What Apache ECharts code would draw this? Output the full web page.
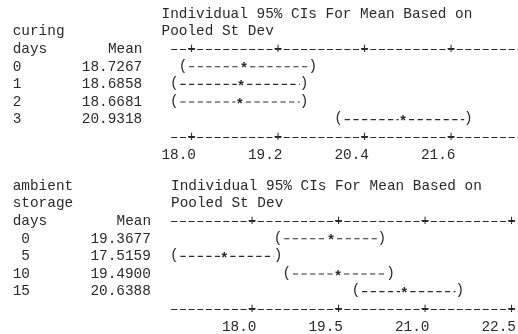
<!DOCTYPE html>
<html><head><meta charset="utf-8">
<script src="https://cdn.jsdelivr.net/npm/echarts@6/dist/echarts.min.js"></script>
<style>html,body{margin:0;padding:0;background:#fff}#c{width:518px;height:334px}</style>
</head><body><div id="c"></div>
<script>
// ---- data ----
const curingDays = ['0', '1', '2', '3'];
const curingMean = [18.7267, 18.6858, 18.6681, 20.9318];
const curingLower = [17.88, 17.76, 17.76, 20.04];
const curingUpper = [19.68, 19.56, 19.56, 21.84];
const curingTicks = [18.0, 19.2, 20.4, 21.6];

const storageDays = ['0', '5', '10', '15'];
const storageMean = [19.3677, 17.5159, 19.4900, 20.6388];
const storageLower = [18.45, 16.65, 18.60, 19.80];
const storageUpper = [20.25, 18.45, 20.40, 21.60];
const storageTicks = [18.0, 19.5, 21.0, 22.5];

// ---- style / layout ----
const FONT_FAMILY = 'Liberation Mono';
const FS = 14.4;
const CW = 8.65;
const LH = 17.6;
const COLOR = '#2a2a2a';
const FONT = FS + 'px "' + FONT_FAMILY + '"';
const BOLD_FONT = 'bold ' + FONT;
const TOP0 = 14, BOT0 = 186;
const LEFTX = 12.7;
const DASH = [5.2, 3.45];
const DASH_OFF = CW - (CW - DASH[0]) / 2;

const topRows = curingDays.map((d, i) => d.padEnd(8) + curingMean[i].toFixed(4));
const botRows = storageDays.map((d, i) => d.padStart(2).padEnd(9) + storageMean[i].toFixed(4));

function gridCfg(top, width) {
  return { left: 170, top: top, width: width, height: 5 * LH, containLabel: false, outerBoundsMode: 'none' };
}
function rulerAxis(gridIndex, pos, min, max, ticks, withNums) {
  return {
    type: 'value', gridIndex: gridIndex, position: pos, min: min, max: max,
    axisLine: { show: true, onZero: false, lineStyle: { color: COLOR, width: 1.1, type: DASH, dashOffset: DASH_OFF } },
    axisTick: { show: false }, splitLine: { show: false },
    axisLabel: {
      show: true, customValues: ticks, fontFamily: FONT_FAMILY, fontSize: FS, color: COLOR,
      align: 'center', verticalAlign: 'middle', lineHeight: LH,
      margin: withNums ? LH / 2 : 0,
      formatter: withNums ? (v => '   +   \n' + Number(v).toFixed(1) + '   ') : (() => '+')
    }
  };
}
function rowAxis(gridIndex, rows) {
  return {
    type: 'value', gridIndex: gridIndex, min: 0, max: 5, inverse: true,
    axisLine: { show: false }, axisTick: { show: false }, splitLine: { show: false },
    axisLabel: {
      show: true, customValues: [1, 2, 3, 4], align: 'left', margin: 170 - LEFTX,
      fontFamily: FONT_FAMILY, fontSize: FS, color: COLOR,
      formatter: v => rows[Math.round(v) - 1] || ''
    }
  };
}
function ciSeries(gridIdx, lower, mean, upper) {
  return {
    type: 'custom', xAxisIndex: gridIdx * 2 + 1, yAxisIndex: gridIdx,
    encode: { x: [0, 1, 2], y: 3 },
    data: mean.map((m, i) => [lower[i], m, upper[i], i + 1]),
    clip: false, silent: true,
    renderItem: function (params, api) {
      const r = api.value(3);
      const pl = api.coord([api.value(0), r]);
      const pm = api.coord([api.value(1), r]);
      const ph = api.coord([api.value(2), r]);
      const y = pl[1], h = CW / 2;
      const ls = { stroke: COLOR, lineWidth: 1.1, lineDash: DASH, lineDashOffset: DASH_OFF };
      const txt = (s, x, dy, f) => ({ type: 'text', x: x, y: y + (dy || 0), style: { text: s, font: f || FONT, fill: COLOR, align: 'center', verticalAlign: 'middle' } });
      return { type: 'group', children: [
        { type: 'line', shape: { x1: pl[0] + h, y1: y, x2: pm[0] - h, y2: y }, style: ls },
        { type: 'line', shape: { x1: pm[0] + h, y1: y, x2: ph[0] - h, y2: y }, style: ls },
        txt('(', pl[0], -1), txt(')', ph[0], -1), txt('*', pm[0], 3, BOLD_FONT)
      ] };
    }
  };
}
function label(text, x, y, align) {
  return { type: 'text', x: x, y: y, style: { text: text, font: FONT, fill: COLOR, align: align || 'left', verticalAlign: 'middle' } };
}

const chart = echarts.init(document.getElementById('c'), null, { renderer: 'canvas' });
chart.setOption({
  backgroundColor: '#fff',
  animation: false,
  grid: [gridCfg(TOP0 + 2 * LH, 42 * CW), gridCfg(BOT0 + 2 * LH, 40 * CW)],
  xAxis: [
    rulerAxis(0, 'top', 17.7, 17.7 + 42 * 0.12, curingTicks, false),
    rulerAxis(0, 'bottom', 17.7, 17.7 + 42 * 0.12, curingTicks, true),
    rulerAxis(1, 'top', 16.575, 16.575 + 40 * 0.15, storageTicks, false),
    rulerAxis(1, 'bottom', 16.575, 16.575 + 40 * 0.15, storageTicks, true)
  ],
  yAxis: [rowAxis(0, topRows), rowAxis(1, botRows)],
  series: [
    ciSeries(0, curingLower, curingMean, curingUpper),
    ciSeries(1, storageLower, storageMean, storageUpper)
  ],
  graphic: [
    label('Individual 95% CIs For Mean Based on', 161.5, TOP0),
    label('curing', LEFTX, TOP0 + LH),
    label('Pooled St Dev', 161.5, TOP0 + LH),
    label('days', LEFTX, TOP0 + 2 * LH),
    label('Mean', LEFTX + 15 * CW, TOP0 + 2 * LH, 'right'),
    label('ambient', LEFTX, BOT0),
    label('Individual 95% CIs For Mean Based on', 171, BOT0),
    label('storage', LEFTX, BOT0 + LH),
    label('Pooled St Dev', 171, BOT0 + LH),
    label('days', LEFTX, BOT0 + 2 * LH),
    label('Mean', LEFTX + 16 * CW, BOT0 + 2 * LH, 'right')
  ]
});
</script>
</body></html>
